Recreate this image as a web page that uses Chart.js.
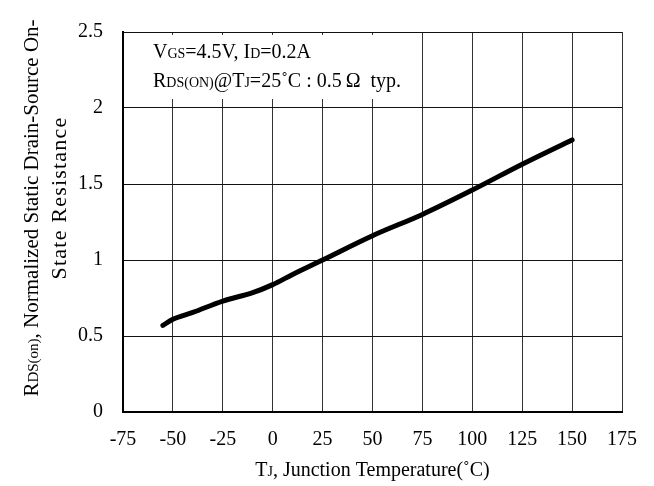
<!DOCTYPE html>
<html>
<head>
<meta charset="utf-8">
<script src="https://cdn.jsdelivr.net/npm/chart.js@4.4.0/dist/chart.umd.min.js"></script>
<style>
  html, body { margin: 0; padding: 0; background: #fff; }
  #wrap { width: 654px; height: 486px; }
</style>
</head>
<body>
<div id="wrap"><canvas id="rdsChart" width="654" height="486"></canvas></div>
<script>
// junction temperature (°C) and normalized RDS(on)
const temps = [-55, -50, -40, -25, -10, 0, 10, 25, 50, 75, 100, 125, 150];
const rdsNorm = [0.57, 0.61, 0.655, 0.73, 0.785, 0.838, 0.905, 1.0, 1.16, 1.30, 1.46, 1.63, 1.79];

const xMin = -75, xMax = 175, xStep = 25;
const yMin = 0, yMax = 2.5, yStep = 0.5;

const FONT = '"Liberation Serif", "DejaVu Serif", serif';
const BIG = 20, SMALL = 14;

// draw a run of text pieces with different sizes on one baseline
function drawRich(ctx, pieces, x, y, align) {
    let w = 0;
    pieces.forEach(p => {
        ctx.font = p[1] + 'px ' + FONT;
        w += ctx.measureText(p[0]).width;
    });
    let cx = align === 'center' ? x - w / 2 : x;
    ctx.textAlign = 'left';
    ctx.textBaseline = 'alphabetic';
    pieces.forEach(p => {
        ctx.font = p[1] + 'px ' + FONT;
        ctx.fillText(p[0], cx, y);
        cx += ctx.measureText(p[0]).width;
    });
}

const labelsPlugin = {
    id: 'labelsPlugin',
    beforeDatasetsDraw(chart) {
        const ctx = chart.ctx;
        ctx.save();
        // note box sits over the grid
        ctx.fillStyle = '#fff';
        ctx.fillRect(145, 35, 275, 64);
        ctx.fillStyle = '#000';
        drawRich(ctx, [['V', BIG], ['GS', SMALL], ['=4.5V, I', BIG], ['D', SMALL], ['=0.2A', BIG]], 153, 58);
        drawRich(ctx, [['R', BIG], ['DS(ON)', SMALL], ['@T', BIG], ['J', SMALL], ['=25˚C : 0.5\u2009Ω  typ.', BIG]], 153, 87);
        ctx.restore();
    },
    afterDraw(chart) {
        const ctx = chart.ctx;
        const area = chart.chartArea;
        ctx.save();
        ctx.fillStyle = '#000';
        // x axis title
        drawRich(ctx, [['T', BIG], ['J', SMALL], [', Junction Temperature(˚C)', BIG]], (area.left + area.right) / 2, 476, 'center');
        // y axis title, two rotated lines
        ctx.translate(38, 208);
        ctx.rotate(-Math.PI / 2);
        drawRich(ctx, [['R', 21], ['DS(on)', 15], [', Normalized Static Drain-Source On-', 21]], 0, 0, 'center');
        ctx.restore();
        ctx.save();
        ctx.fillStyle = '#000';
        ctx.translate(66, 198);
        ctx.rotate(-Math.PI / 2);
        ctx.letterSpacing = '1.2px';
        drawRich(ctx, [['State Resistance', 22]], 0, 0, 'center');
        ctx.restore();
    }
};

const ctx = document.getElementById('rdsChart').getContext('2d');

const myChart = new Chart(ctx, {
    type: 'line',
    data: {
        datasets: [{
            data: temps.map((t, i) => ({ x: t, y: rdsNorm[i] })),
            borderColor: '#000',
            borderWidth: 5,
            borderCapStyle: 'round',
            borderJoinStyle: 'round',
            cubicInterpolationMode: 'monotone',
            pointRadius: 0,
            fill: false
        }]
    },
    options: {
        responsive: false,
        animation: false,
        layout: {
            padding: { left: 0, top: 18, right: 32, bottom: 0 }
        },
        scales: {
            x: {
                type: 'linear',
                min: xMin,
                max: xMax,
                ticks: {
                    stepSize: xStep,
                    color: '#000',
                    padding: 16,
                    font: { family: FONT, size: BIG }
                },
                grid: { color: '#333', lineWidth: 1, drawTicks: false },
                border: { color: '#000', width: 2 },
                afterFit(scale) { scale.height = 74; }
            },
            y: {
                min: yMin,
                max: yMax,
                ticks: {
                    stepSize: yStep,
                    color: '#000',
                    padding: 20,
                    font: { family: FONT, size: BIG },
                    callback: v => String(v)
                },
                grid: { color: '#111', lineWidth: 1, drawTicks: false },
                border: { color: '#000', width: 2 },
                afterFit(scale) { scale.width = 123; }
            }
        },
        plugins: {
            legend: { display: false },
            tooltip: { enabled: false }
        }
    },
    plugins: [labelsPlugin]
});
</script>
</body>
</html>
